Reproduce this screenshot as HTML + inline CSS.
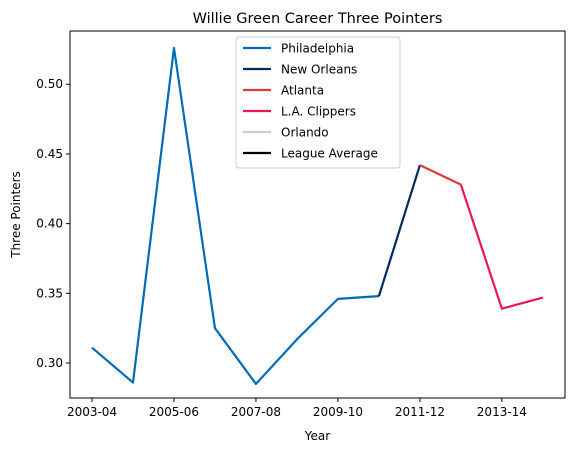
<!DOCTYPE html>
<html><head><meta charset="utf-8"><style>
body{margin:0;background:#fff;font-family:"Liberation Sans","DejaVu Sans",sans-serif}
svg text{font-family:"DejaVu Sans","Liberation Sans",sans-serif}
</style></head><body>
<svg id="c" width="579" height="453"></svg>
<script>
const seasons=["2003-04","2004-05","2005-06","2006-07","2007-08","2008-09","2009-10","2010-11","2011-12","2012-13","2013-14","2014-15"];
const values=[0.311,0.286,0.526,0.325,0.285,0.317,0.346,0.348,0.442,0.428,0.339,0.347];
const teams=["Philadelphia","New Orleans","Atlanta","L.A. Clippers","Orlando","League Average"];
const teamColors=["#006BB6","#002B5C","#E03A3E","#ED174C","#C4CED4","#000000"];
const segStart=[0,7,8,9];
const segEnd=[7,8,9,11];
const yTicks=[0.30,0.35,0.40,0.45,0.50];
const xTickIdx=[0,2,4,6,8,10];
const L=70,R=565,T=31,B=398;
const yMin=0.2749,yMax=0.5382,xMin=-0.537,xMax=11.54;
const X=i=>L+(i-xMin)/(xMax-xMin)*(R-L);
const Y=v=>B-(v-yMin)/(yMax-yMin)*(B-T);
const s=document.getElementById('c');const NS="http://www.w3.org/2000/svg";
function mk(t,a,txt){const e=document.createElementNS(NS,t);for(const k in a)e.setAttribute(k,a[k]);if(txt!=null)e.textContent=txt;s.appendChild(e);return e;}
segStart.forEach((st,k)=>{let pts=[];for(let i=st;i<=segEnd[k];i++)pts.push(X(i)+","+Y(values[i]));
const e=mk('polyline',{points:pts.join(' '),fill:'none',stroke:teamColors[k],'stroke-width':2.2,'stroke-linejoin':'round'});

});
const fr=mk('rect',{x:L,y:T,width:R-L,height:B-T,fill:'none',stroke:'#000','stroke-width':1});

yTicks.forEach(v=>{const y=Y(v);mk('line',{x1:L-4,x2:L,y1:y,y2:y,stroke:'#000'});
const t=mk('text',{x:L-7,y:y+4,'text-anchor':'end','font-size':12},v.toFixed(2));
});
xTickIdx.forEach(i=>{const x=X(i);mk('line',{x1:x,x2:x,y1:B,y2:B+4,stroke:'#000'});
const t=mk('text',{x:x,y:B+18,'text-anchor':'middle','font-size':12},seasons[i]);
});
let e=mk('text',{x:(L+R)/2,y:23,'text-anchor':'middle','font-size':14.5},'Willie Green Career Three Pointers');

e=mk('text',{x:(L+R)/2,y:440,'text-anchor':'middle','font-size':12},'Year');

e=mk('text',{x:0,y:0,'text-anchor':'middle','font-size':12,transform:'translate(20,'+(T+B)/2+') rotate(-90)'},'Three Pointers');

e=mk('rect',{x:236,y:37,width:164,height:131,rx:3,fill:'#fff',stroke:'#ccc','fill-opacity':0.8});

teams.forEach((n,k)=>{const y=48+k*21;mk('line',{x1:243,x2:271,y1:y,y2:y,stroke:teamColors[k],'stroke-width':2.2});
const t=mk('text',{x:281,y:y+4.5,'font-size':12},n);
});
</script>
</body></html>
